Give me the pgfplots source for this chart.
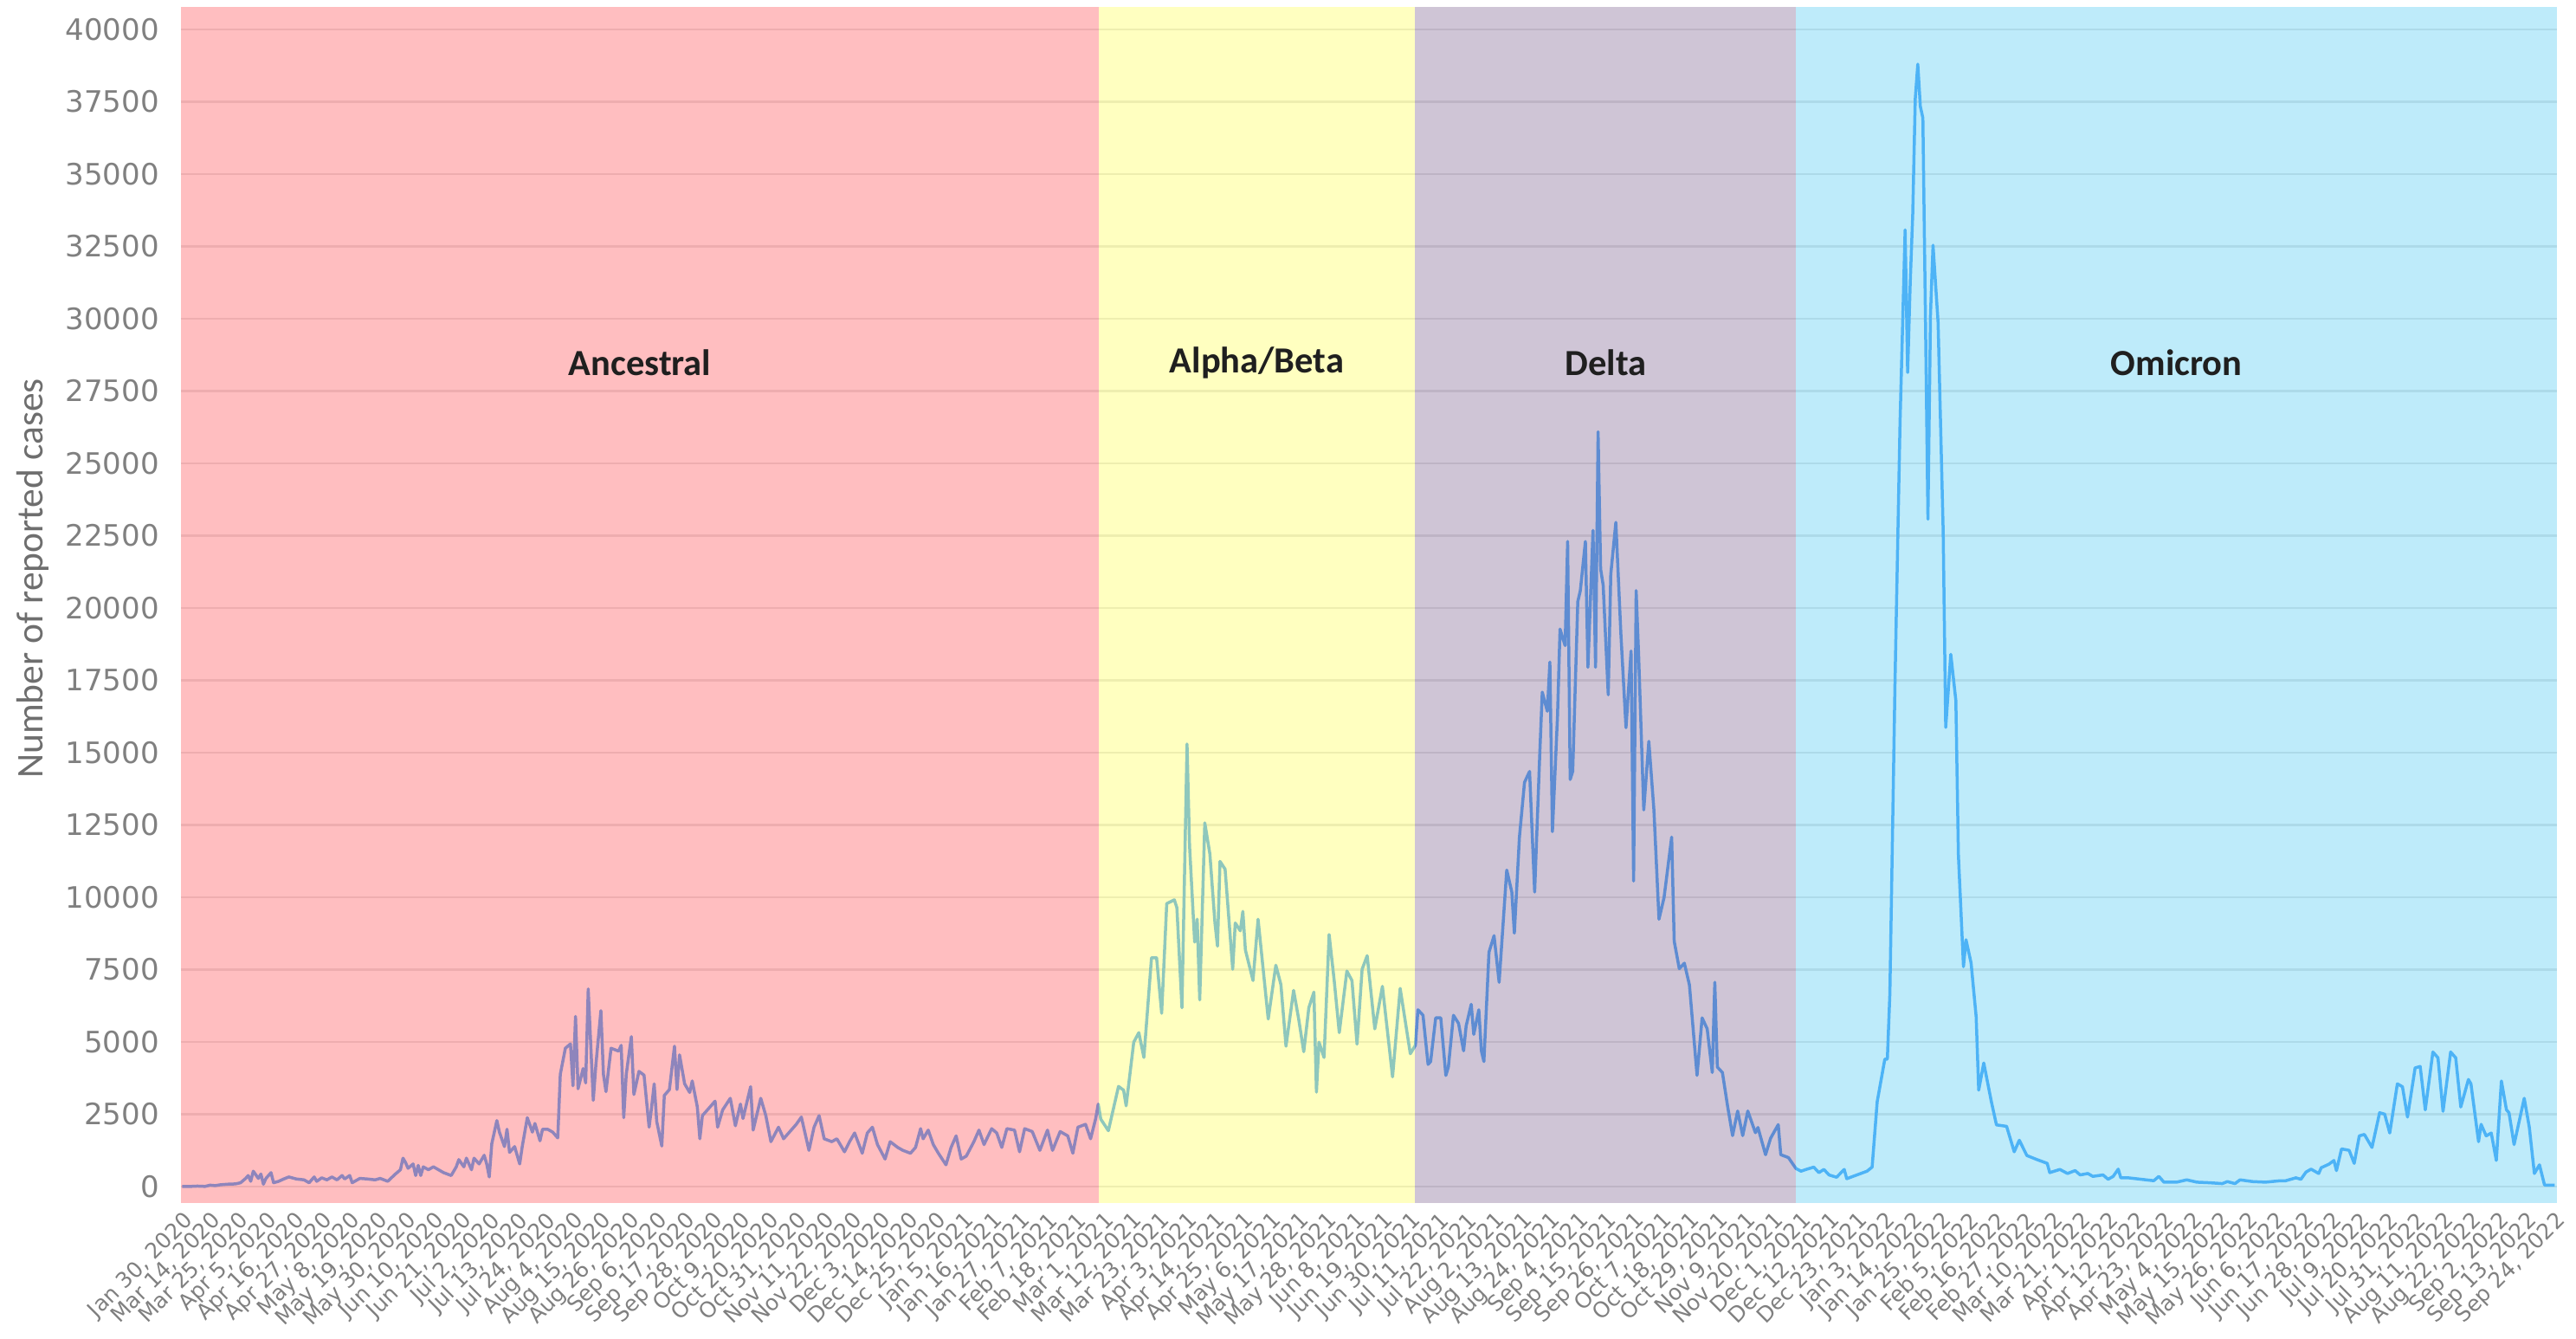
\documentclass[border=0pt]{standalone}
\usepackage{fontspec}
\setmainfont{DejaVu Sans}
\newfontfamily\carlito{Carlito}
\usepackage{pgfplots}
\pgfplotsset{compat=1.18}
\definecolor{linec}{RGB}{29,143,249}
\definecolor{bandpink}{RGB}{255,125,129}
\definecolor{bandyellow}{RGB}{255,255,129}
\definecolor{bandpurple}{RGB}{159,139,173}
\definecolor{bandblue}{RGB}{125,215,245}
\definecolor{gridc}{RGB}{222,222,222}
\definecolor{tickc}{RGB}{128,128,128}
\definecolor{titlec}{RGB}{110,110,110}
\begin{document}
\begin{tikzpicture}
\begin{axis}[
  scale only axis, width=548.8pt, height=276.2pt,
  xmin=-0.5, xmax=935.9, ymin=-570, ymax=40780,
  axis line style={draw=none},
  major tick length=0pt,
  scaled y ticks=false,
  /pgf/number format/assume math mode=true,
  ytick={0,2500,...,40000},
  yticklabel style={font=\fontsize{6.8}{8}\selectfont, color=tickc, /pgf/number format/fixed, /pgf/number format/1000 sep={}, xshift=-1.5pt},
  ymajorgrids, major grid style={color=gridc, line width=0.45pt},
  xtick={0,11,...,935},
  xticklabels={{Jan 30, 2020},{Mar 14, 2020},{Mar 25, 2020},{Apr 5, 2020},{Apr 16, 2020},{Apr 27, 2020},{May 8, 2020},{May 19, 2020},{May 30, 2020},{Jun 10, 2020},{Jun 21, 2020},{Jul 2, 2020},{Jul 13, 2020},{Jul 24, 2020},{Aug 4, 2020},{Aug 15, 2020},{Aug 26, 2020},{Sep 6, 2020},{Sep 17, 2020},{Sep 28, 2020},{Oct 9, 2020},{Oct 20, 2020},{Oct 31, 2020},{Nov 11, 2020},{Nov 22, 2020},{Dec 3, 2020},{Dec 14, 2020},{Dec 25, 2020},{Jan 5, 2021},{Jan 16, 2021},{Jan 27, 2021},{Feb 7, 2021},{Feb 18, 2021},{Mar 1, 2021},{Mar 12, 2021},{Mar 23, 2021},{Apr 3, 2021},{Apr 14, 2021},{Apr 25, 2021},{May 6, 2021},{May 17, 2021},{May 28, 2021},{Jun 8, 2021},{Jun 19, 2021},{Jun 30, 2021},{Jul 11, 2021},{Jul 22, 2021},{Aug 2, 2021},{Aug 13, 2021},{Aug 24, 2021},{Sep 4, 2021},{Sep 15, 2021},{Sep 26, 2021},{Oct 7, 2021},{Oct 18, 2021},{Oct 29, 2021},{Nov 9, 2021},{Nov 20, 2021},{Dec 1, 2021},{Dec 12, 2021},{Dec 23, 2021},{Jan 3, 2022},{Jan 14, 2022},{Jan 25, 2022},{Feb 5, 2022},{Feb 16, 2022},{Feb 27, 2022},{Mar 10, 2022},{Mar 21, 2022},{Apr 1, 2022},{Apr 12, 2022},{Apr 23, 2022},{May 4, 2022},{May 15, 2022},{May 26, 2022},{Jun 6, 2022},{Jun 17, 2022},{Jun 28, 2022},{Jul 9, 2022},{Jul 20, 2022},{Jul 31, 2022},{Aug 11, 2022},{Aug 22, 2022},{Sep 2, 2022},{Sep 13, 2022},{Sep 24, 2022}},
  xticklabel style={rotate=45, anchor=north east, font=\fontsize{5}{6}\selectfont, color=tickc, inner sep=1pt},
  ylabel={Number of reported cases},
  ylabel style={at={(axis description cs:-0.0623,0.522)}, anchor=center, rotate=0, font=\carlito\fontsize{8.7}{10}\selectfont, color=titlec},
  clip=true,
]
% daily reported cases (x = day index, Jan 30 2020 = 0, Mar 14 2020 = 11)
\addplot[color=linec, line width=0.7pt, line join=round] coordinates {
(0,1) (3,2) (6,14) (9,3) (11,47) (13,30) (15,60) (18,80) (21,90) (23,130) (25,280) (26,380) (27,180) (28,530) (30,280) (31,430) (32,80) (33,280) (35,480) (36,130) (38,180) (40,260) (42,330) (45,260) (48,230) (50,130) (52,330) (53,180) (55,300) (57,230) (59,330) (61,230) (63,380) (64,260) (66,380) (67,130) (70,280) (73,260) (76,230) (78,280) (81,180) (84,430) (86,580) (87,980) (88,830) (89,630) (91,780) (92,380) (93,730) (94,380) (95,680) (97,580) (99,680) (101,580) (103,480) (106,380) (108,680) (109,930) (111,680) (112,980) (114,580) (115,980) (117,780) (119,1080) (120,780) (121,330) (122,1480) (124,2280) (125,1880) (127,1380) (128,1980) (129,1180) (131,1380) (133,780) (134,1380) (136,2380) (138,1880) (139,2180) (141,1580) (142,1980) (144,1980) (146,1880) (148,1680) (149,3880) (151,4780) (153,4930) (154,3480) (155,5880) (156,3380) (158,4080) (159,3580) (160,6830) (162,2980) (163,4180) (165,6080) (166,3880) (167,3280) (169,4780) (172,4680) (173,4880) (174,2380) (175,3880) (177,5180) (178,3180) (180,3980)
(182,3850) (184,2050) (185,2750) (186,3550) (187,2250) (189,1400) (190,3150) (192,3350) (194,4850) (195,3350) (196,4550) (198,3550) (200,3250) (201,3650) (203,2750) (204,1650) (205,2450) (207,2650) (210,2950) (211,2050) (213,2650) (216,3050) (218,2100) (220,2850) (221,2350) (224,3450) (225,1950) (228,3050) (230,2450) (232,1550) (235,2050) (237,1650) (240,1950) (242,2150) (244,2400) (247,1250) (249,2050) (251,2450) (253,1650) (256,1550) (258,1650) (261,1200) (263,1550) (265,1850) (268,1150) (270,1850) (272,2050) (274,1450) (277,950) (279,1550) (282,1350) (284,1250) (287,1150) (289,1350) (291,2000) (292,1650) (294,1950) (296,1450) (298,1150) (301,750) (303,1350) (305,1750) (307,950) (309,1050) (312,1550) (314,1950) (316,1450) (319,2000) (321,1850) (323,1350) (325,2000) (328,1950) (330,1200) (332,2000) (335,1900) (338,1250) (341,1950) (343,1250) (346,1900) (349,1750) (351,1150) (353,2050) (356,2150) (358,1650) (360,2350) (361,2850)
(362,2330) (365,1930) (369,3460) (371,3330) (372,2790) (375,4990) (377,5320) (379,4460) (382,7910) (384,7910) (386,5990) (388,9780) (391,9910) (392,9640) (394,6180) (396,15300) (397,11770) (399,8450) (400,9240) (401,6450) (403,12570) (405,11500) (407,9110) (408,8310) (409,11240) (411,10970) (414,7510) (415,9110) (417,8840) (418,9510) (419,8180) (422,7120) (424,9240) (428,5790) (431,7650) (433,6980) (435,4850) (438,6780) (440,5790) (442,4660) (444,6180) (446,6720) (447,3260) (448,4990) (450,4460) (452,8710) (454,7120) (456,5320) (459,7450) (461,7120) (463,4920) (465,7510) (467,7980) (470,5450) (473,6920) (477,3790) (480,6850) (484,4590)
(486,4880) (487,6110) (489,5920) (491,4220) (492,4320) (494,5830) (496,5830) (498,3840) (499,4130) (501,5920) (503,5640) (505,4690) (506,5550) (508,6300) (509,5260) (511,6110) (512,4690) (513,4320) (515,8100) (517,8670) (519,7060) (522,10940) (524,10180) (525,8760) (527,12080) (529,13970) (531,14350) (533,10180) (535,14920) (536,17090) (538,16430) (539,18130) (540,12270) (542,16240) (543,19270) (545,18700) (546,22300) (547,14070) (548,14350) (550,20220) (551,20600) (553,22300) (554,17950) (556,22680) (557,17950) (558,26090) (559,21350) (560,20790) (562,17000) (563,21160) (565,22960) (567,19080) (569,15860) (571,18510) (572,10560) (573,20600) (574,18320) (576,13020) (578,15390) (580,13020) (582,9240) (584,9990) (587,12080) (588,8480) (590,7530) (592,7720) (594,6970) (597,3840) (599,5830) (601,5450) (603,3940) (604,7060) (605,4130) (607,3940) (609,2800) (611,1760) (613,2610) (615,1760) (617,2610) (620,1860) (621,2040) (624,1100) (626,1670) (629,2140) (630,1100) (633,1000) (636,620)
(638,530) (640,590) (643,670) (645,480) (647,590) (649,400) (652,320) (655,590) (656,270) (660,400) (664,530) (666,670) (668,2930) (671,4400) (672,4400) (673,6670) (675,17340) (677,26400) (679,33070) (680,28140) (681,31200) (682,33600) (683,37600) (684,38800) (685,37340) (686,36940) (687,30140) (688,23070) (689,30140) (690,32540) (692,29870) (694,22670) (695,15870) (697,18400) (699,16800) (700,11470) (702,7600) (703,8530) (705,7730) (707,5870) (708,3330) (710,4270) (713,2930) (715,2130) (719,2080) (722,1200) (724,1600) (727,1070) (731,930) (735,800) (736,480) (740,590)
(743,450) (746,550) (748,400) (751,450) (753,350) (757,400) (759,250) (761,350) (763,600) (764,300) (767,300) (772,250) (777,200) (779,350) (781,150) (786,150) (790,230) (794,150) (799,130) (804,100) (806,170) (809,100) (811,230) (816,170) (821,150) (827,200) (829,200) (833,300) (835,250) (837,500) (839,600) (842,450) (843,650) (846,770) (848,900) (849,550) (851,1300) (854,1250) (856,800) (858,1750) (860,1800) (863,1350) (866,2550) (868,2500) (870,1850) (873,3550) (875,3450) (877,2400) (880,4100) (882,4150) (884,2650) (887,4650) (889,4450) (891,2600) (894,4650) (896,4450) (898,2750) (901,3700) (902,3550) (905,1550) (906,2150) (908,1750) (910,1850) (912,900) (914,3650) (916,2650) (917,2550) (919,1450) (921,2250) (923,3050) (925,2050) (927,450) (929,750) (931,50) (935,50)
};
% variant periods (translucent bands over the curve)
\addplot[draw=none, fill=bandpink, fill opacity=0.5, forget plot] coordinates {(-0.5,-570) (361.3,-570) (361.3,40780) (-0.5,40780)} -- cycle;
\addplot[draw=none, fill=bandyellow, fill opacity=0.5, forget plot] coordinates {(361.3,-570) (485.8,-570) (485.8,40780) (361.3,40780)} -- cycle;
\addplot[draw=none, fill=bandpurple, fill opacity=0.5, forget plot] coordinates {(485.8,-570) (636,-570) (636,40780) (485.8,40780)} -- cycle;
\addplot[draw=none, fill=bandblue, fill opacity=0.5, forget plot] coordinates {(636,-570) (935.9,-570) (935.9,40780) (636,40780)} -- cycle;
\node[font=\carlito\bfseries\fontsize{8.5}{10}\selectfont, text=black!88] at (axis cs:180.4,28470) {Ancestral};
\node[font=\carlito\bfseries\fontsize{8.5}{10}\selectfont, text=black!88] at (axis cs:423.5,28470) {Alpha/Beta};
\node[font=\carlito\bfseries\fontsize{8.5}{10}\selectfont, text=black!88] at (axis cs:561,28470) {Delta};
\node[font=\carlito\bfseries\fontsize{8.5}{10}\selectfont, text=black!88] at (axis cs:786,28470) {Omicron};
\end{axis}
\pgfresetboundingbox
\path ([xshift=-41.8pt,yshift=-31.4pt]current axis.south west) rectangle ([xshift=4.4pt,yshift=1.6pt]current axis.north east);
\end{tikzpicture}
\end{document}
